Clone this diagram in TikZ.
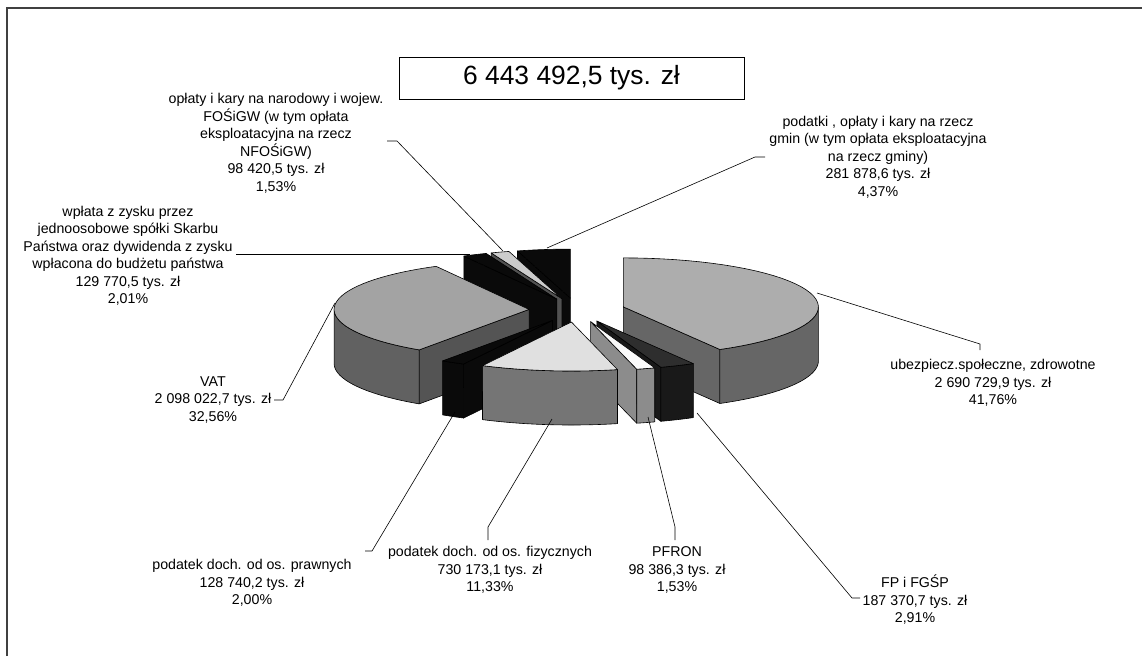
\documentclass[tikz,border=0pt]{standalone}
\usepackage{fontspec}
\setmainfont{Liberation Sans}
\definecolor{ubtop}{gray}{0.68}
\definecolor{ubside}{gray}{0.40}
\definecolor{vattop}{gray}{0.64}
\definecolor{vatside}{gray}{0.38}
\definecolor{vatrad}{gray}{0.33}
\definecolor{fiztop}{gray}{0.88}
\definecolor{fizside}{gray}{0.46}
\definecolor{pftop}{gray}{0.98}
\definecolor{pfside}{gray}{0.55}
\definecolor{fptop}{gray}{0.18}
\definecolor{fpside}{gray}{0.10}
\definecolor{blk}{gray}{0.04}
\definecolor{optop}{gray}{0.80}
\definecolor{opside}{gray}{0.32}
\tikzset{
  pieline/.style={draw=black, line width=0.6pt, line join=round},
  lbl/.style={align=center, inner sep=0pt, font=\fontsize{14.2}{17.5}\selectfont},
  leader/.style={draw=black, line width=0.6pt},
}
\newcommand\pietop[5]{\filldraw[pieline, fill=#5] (#1,#2) -- plot[domain=#3:#4, samples=40] ({#1+195*sin(\x)},{#2-49*cos(\x)}) -- cycle;}
\newcommand\pieouter[5]{\filldraw[pieline, fill=#5] plot[domain=#3:#4, samples=40] ({#1+195*sin(\x)},{#2-49*cos(\x)}) -- plot[domain=#4:#3, samples=40] ({#1+195*sin(\x)},{#2+54-49*cos(\x)}) -- cycle;}
\newcommand\pieradial[4]{\filldraw[pieline, fill=#4] (#1,#2) -- ({#1+195*sin(#3)},{#2-49*cos(#3)}) -- ({#1+195*sin(#3)},{#2+54-49*cos(#3)}) -- (#1,#2+54) -- cycle;}
\begin{document}
\begin{tikzpicture}[x=1pt,y=-1pt]
\useasboundingbox (0,0) rectangle (1142,656);
\fill[white] (0,0) rectangle (1142,656);
% frame
\draw[line width=1.5pt, black!75] (7,656) -- (7,8) -- (1142,8);
% title
\node[draw=black, line width=0.9pt, minimum width=345pt, minimum height=42pt, inner sep=0pt,
      font=\fontsize{26.4}{30}\selectfont] (title) at (571.5,78) {6 443 492,5 tys. zł};
% ---- slices, back to front ----
% gmin 344.27-360
\pieradial{570.4}{298.1}{344.27}{blk}
\pietop{570.4}{298.1}{344.27}{360}{blk}
% oplaty 338.76-344.27
\pieradial{561.8}{298.6}{338.76}{opside}
\pietop{561.8}{298.6}{338.76}{344.27}{optop}
% wplata 331.52-338.76
\pieradial{556.8}{299.1}{331.52}{blk}
\pietop{556.8}{299.1}{331.52}{338.76}{blk}
% ubezpieczenia 0-150.34
\pieradial{623.4}{306.9}{150.34}{ubside}
\pieouter{623.4}{306.9}{90}{150.34}{ubside}
\pietop{623.4}{306.9}{0}{150.34}{ubtop}
% VAT 214.31-331.52
\pieradial{529.1}{309.4}{214.31}{vatrad}
\pieouter{529.1}{309.4}{214.31}{270}{vatside}
\pietop{529.1}{309.4}{214.31}{331.52}{vattop}
% FP i FGSP 150.34-160.81
\pieradial{596.8}{321.0}{160.81}{fpside}
\pieouter{596.8}{321.0}{150.34}{160.81}{fpside}
\pietop{596.8}{321.0}{150.34}{160.81}{fptop}
% PFRON 160.81-166.32
\pieradial{590.6}{321.6}{166.32}{pfside}
\pieouter{590.6}{321.6}{160.81}{166.32}{pfside}
\pietop{590.6}{321.6}{160.81}{166.32}{pftop}
% prawnych 207.11-214.31
\pieradial{552.5}{320.4}{207.11}{blk}
\pieouter{552.5}{320.4}{207.11}{214.31}{blk}
\pietop{552.5}{320.4}{207.11}{214.31}{blk}
% fizycznych 166.32-207.11
\pieouter{571.4}{322.0}{166.32}{207.11}{fizside}
\pietop{571.4}{322.0}{166.32}{207.11}{fiztop}
% ---- labels ----
\node[lbl] (lop) at (276,143.5) {opłaty i kary na narodowy i wojew.\\FOŚiGW (w tym opłata\\eksploatacyjna na rzecz\\NFOŚiGW)\\98 420,5 tys. zł\\1,53\%};
\node[lbl] (lwp) at (128,256) {wpłata z zysku przez\\jednoosobowe spółki Skarbu\\Państwa oraz dywidenda z zysku\\wpłacona do budżetu państwa\\129 770,5 tys. zł\\2,01\%};
\node[lbl] (lgm) at (878,157) {podatki , opłaty i kary na rzecz\\gmin (w tym opłata eksploatacyjna\\na rzecz gminy)\\281 878,6 tys. zł\\4,37\%};
\node[lbl] (lub) at (993,383) {ubezpiecz.społeczne, zdrowotne\\2 690 729,9 tys. zł\\41,76\%};
\node[lbl] (lvat) at (213,400) {VAT\\2 098 022,7 tys. zł\\32,56\%};
\node[lbl] (lpr) at (252,583) {podatek doch. od os. prawnych\\128 740,2 tys. zł\\2,00\%};
\node[lbl] (lfz) at (490,570) {podatek doch. od os. fizycznych\\730 173,1 tys. zł\\11,33\%};
\node[lbl] (lpf) at (677,570) {PFRON\\98 386,3 tys. zł\\1,53\%};
\node[lbl] (lfp) at (915,600) {FP i FGŚP\\187 370,7 tys. zł\\2,91\%};
% ---- leader ends on slices ----
\coordinate (pop) at (503,251);
\coordinate (pwp) at (470,254);
\coordinate (pgm) at (547,248);
\coordinate (pub) at (817,293);
\coordinate (pvat) at (335,303);
\coordinate (ppr) at (455,412);
\coordinate (pfz) at (552,419);
\coordinate (ppf) at (648,417);
\coordinate (pfp) at (697,413);
% ---- leaders ----
\draw[leader] (387,141) coordinate (aop) -- (397,141) -- (pop);
\draw[leader] (236,254) coordinate (awp) -- (pwp);
\draw[leader] (765,157) coordinate (agm) -- (755,157) -- (pgm);
\draw[leader] (pub) -- (980,344) coordinate (aub) -- (980,350);
\draw[leader] (274,400) coordinate (avat) -- (283,400) -- (pvat);
\draw[leader] (ppr) -- (372,551) coordinate (apr) -- (365,551);
\draw[leader] (488,540) coordinate (afz) -- (488,527) -- (pfz);
\draw[leader] (675,540) coordinate (apf) -- (675,527) -- (ppf);
\draw[leader] (pfp) -- (852,598) -- (860,598) coordinate (afp);
\end{tikzpicture}
\end{document}
